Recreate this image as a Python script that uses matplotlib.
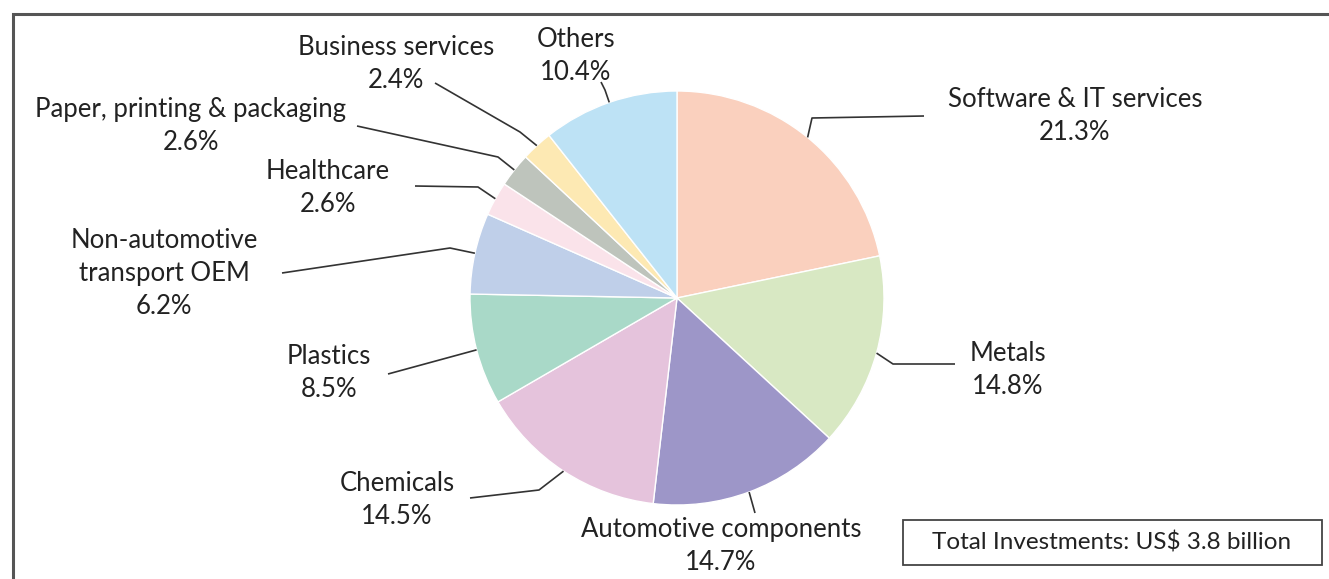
import numpy as np
import matplotlib.pyplot as plt
from matplotlib.patches import Rectangle

# Sector shares (%)
sectors = ["Software & IT services", "Metals", "Automotive components", "Chemicals",
           "Plastics", "Non-automotive\ntransport OEM", "Healthcare",
           "Paper, printing & packaging", "Business services", "Others"]
shares = [21.3, 14.8, 14.7, 14.5, 8.5, 6.2, 2.6, 2.6, 2.4, 10.4]
colors = ["#FAD0BE", "#D8E8C3", "#9D96C8", "#E5C3DC", "#A9D9C8",
          "#BFCFE9", "#FAE3EA", "#BEC4BC", "#FDE9B3", "#BDE2F5"]
total_note = "Total Investments: US$ 3.8 billion"

W, H = 1329, 579
plt.rcParams['font.family'] = ['Lato', 'DejaVu Sans']

fig = plt.figure(figsize=(W / 100, H / 100), dpi=100)
ax = fig.add_axes([0, 0, 1, 1])

def py(y):
    # pixel row -> data y
    return H - y

cx, cy, r = 677, py(298), 207
wedges, _ = ax.pie(shares, colors=colors, startangle=90, counterclock=False,
                   center=(cx, cy), radius=r, frame=True,
                   wedgeprops=dict(edgecolor="white", linewidth=1.0))
ax.set_xlim(0, W)
ax.set_ylim(0, H)
ax.set_aspect('equal')
ax.axis('off')

# label layout: text centre and leader points (pixels) beyond the wedge edge
label_pos = [(1075, 116), (1008, 370), (721, 546), (397, 500), (329, 373),
             (164, 273), (328, 188), (191, 126), (396, 64), (576, 56)]
leaders = [
    [(812, 118), (924, 116)],
    [(893, 364), (955, 364)],
    [(755, 513)],
    [(539, 490), (470, 498)],
    [(388, 374)],
    [(450, 248), (282, 273)],
    [(478, 187), (415, 186)],
    [(498, 157), (357, 126)],
    [(520, 132), (435, 83)],
    [(605, 90), (601, 82)],
]

for w, name, val, (tx, ty), pts in zip(wedges, sectors, shares, label_pos, leaders):
    ang = np.deg2rad((w.theta1 + w.theta2) / 2)
    ex, ey = cx + r * np.cos(ang), cy + r * np.sin(ang)
    xs = [ex] + [p[0] for p in pts]
    ys = [ey] + [py(p[1]) for p in pts]
    ax.plot(xs, ys, color="#333333", lw=1.2, solid_capstyle='butt')
    ax.text(tx, py(ty), f"{name}\n{val}%", ha='center', va='center',
            fontsize=18.5, color="#222222", linespacing=1.4)

# outer frame (only left and top visible)
ax.plot([12.5, 12.5, W], [0, py(14), py(14)], color="#555555", lw=2.2,
        solid_joinstyle='miter')

# total box
ax.add_patch(Rectangle((903, py(565)), 419, 45, fill=False, edgecolor="#444444", lw=1.3))
ax.text(1112, py(543), total_note, ha='center', va='center', fontsize=17.5, color="#222222")

fig.savefig("out.png", dpi=100)
